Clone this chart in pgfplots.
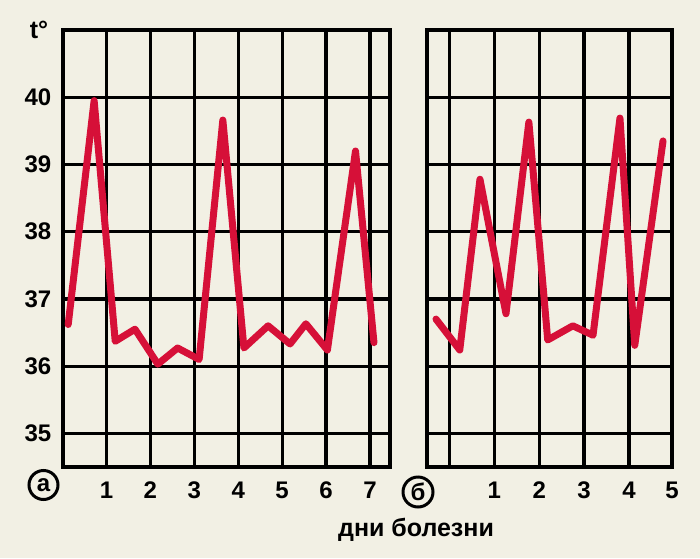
\documentclass[border=0pt]{standalone}
\usepackage{fontspec}
\setmainfont{Liberation Sans}
\usepackage{pgfplots}
\pgfplotsset{compat=1.18}
\definecolor{bg}{RGB}{242,240,228}
\definecolor{redc}{RGB}{214,16,56}
\begin{document}
\begin{tikzpicture}
\path[use as bounding box, fill=bg] (0,0) rectangle (700pt,558pt);
\pgfplotsset{
  panel/.style={
    anchor=south west, scale only axis, height=437pt,
    ymin=34.5, ymax=41,
    ytick={35,36,37,38,39,40},
    grid=major,
    major grid style={black, line width=3.3pt},
    axis line style={black, line width=4pt},
    major tick length=0pt,
    /pgf/number format/assume math mode=true,
    tick label style={font=\fontsize{24}{24}\selectfont\bfseries, inner sep=0pt},
    xticklabel style={yshift=-15pt},
    yticklabel style={xshift=-11pt},
  }
}
\begin{axis}[panel, at={(62.5pt,91pt)}, width=327.5pt,
  xmin=0, xmax=7.455,
  xtick={1,2,3,4,5,6,7}, xticklabels={1,2,3,4,5,6,7},
  yticklabels={35,36,37,38,39,40}]
\addplot[color=redc, line width=7pt, line join=round, line cap=round] coordinates {
(0.13,36.62) (0.72,39.95) (1.20,36.37) (1.65,36.55) (2.17,36.03) (2.62,36.27)
(3.11,36.10) (3.65,39.66) (4.13,36.27) (4.68,36.60) (5.18,36.33) (5.54,36.63)
(6.03,36.24) (6.67,39.20) (7.09,36.35)};
\end{axis}
\begin{axis}[panel, at={(427pt,91pt)}, width=245pt,
  xmin=-0.5, xmax=4.96,
  xtick={0,1,2,3,4,4.96}, xticklabels={,1,2,3,4,5},
  yticklabels={}]
\addplot[color=redc, line width=7pt, line join=round, line cap=round] coordinates {
(-0.30,36.70) (0.23,36.24) (0.68,38.78) (1.26,36.78) (1.77,39.63) (2.19,36.39)
(2.75,36.60) (3.20,36.46) (3.80,39.69) (4.13,36.31) (4.76,39.35)};
\end{axis}
\node[font=\fontsize{25}{25}\selectfont\bfseries] at (39pt,528pt) {t°};
\node[draw, circle, line width=3pt, minimum size=29pt, inner sep=0pt,
  font=\fontsize{24}{24}\selectfont\bfseries] at (43.5pt,73pt) {а};
\node[draw, circle, line width=3pt, minimum size=30pt, inner sep=0pt,
  font=\fontsize{24}{24}\selectfont\bfseries] at (418pt,66pt) {б};
\node[font=\fontsize{25}{25}\selectfont\bfseries] at (416pt,28pt) {дни болезни};
\end{tikzpicture}
\end{document}
